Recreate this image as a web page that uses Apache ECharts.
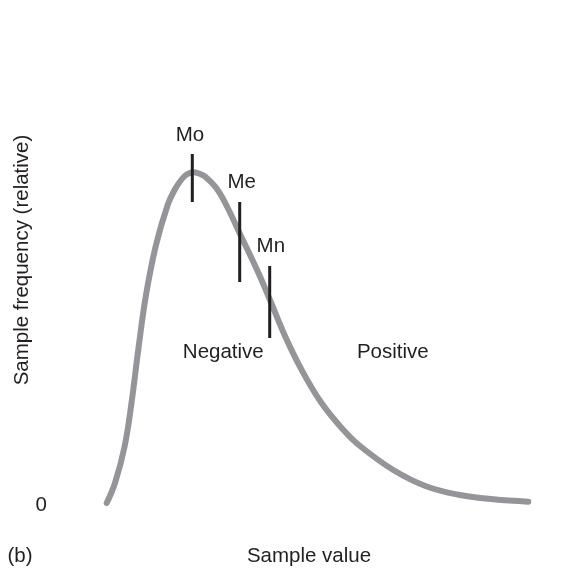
<!DOCTYPE html>
<html>
<head>
<meta charset="utf-8">
<script src="https://cdn.jsdelivr.net/npm/echarts@6/dist/echarts.min.js"></script>
<style>
html,body{margin:0;padding:0;background:#fff;}
#chart{width:563px;height:571px;}
</style>
</head>
<body>
<div id="chart"></div>
<script>
// Skewed frequency distribution (sample value, relative frequency)
var sampleX = [4.67, 5.5, 6.45, 7.15, 7.85, 8.6, 9.6, 10.8, 11.5, 12.15, 12.7, 13.3,
               13.9, 14.5, 15.7, 16.8, 18.0, 19.8, 21.0, 22.5, 24.17, 26.17, 28.3, 30.0, 33.33, 36.67, 40.0, 43.33, 46.83];
var sampleY = [0.2, 2.2, 5.8, 10.2, 15.7, 21.0, 26.0, 30.1, 31.57, 32.55, 33.07, 33.28,
               33.15, 32.84, 31.6, 29.65, 27.1, 23.3, 20.5, 16.9, 13.5, 10.17, 7.55, 5.9, 3.5, 1.85, 1.0, 0.57, 0.33];
// Mode / median / mean markers: [x, yLow, yHigh]
var markerNames = ['Mo', 'Me', 'Mn'];
var markerX = [13.23, 17.97, 20.97];
var markerLow = [30.3, 22.3, 16.7];
var markerHigh = [35.1, 30.3, 23.9];
// Text annotations
var annoText = ['Mo', 'Me', 'Mn', 'Negative', 'Positive'];
var annoX = [13.0, 18.17, 21.08, 16.33, 33.28];
var annoY = [37.0, 32.25, 25.9, 15.25, 15.25];
var yTicks = [0];

var FONT = 'Liberation Sans, Arial, Helvetica, sans-serif';
var TXT = '#231f20';

var curve = sampleX.map(function (x, i) { return [x, sampleY[i]]; });

var series = [{
  type: 'line',
  data: curve,
  smooth: 0.4,
  symbol: 'none',
  lineStyle: { color: '#939598', width: 6, cap: 'round', join: 'round' },
  z: 2
}];
markerX.forEach(function (x, i) {
  series.push({
    type: 'line',
    name: markerNames[i],
    data: [[x, markerLow[i]], [x, markerHigh[i]]],
    symbol: 'none',
    lineStyle: { color: TXT, width: 3 },
    z: 3
  });
});
series.push({
  type: 'scatter',
  symbolSize: 0,
  itemStyle: { opacity: 1 },
  data: annoX.map(function (x, i) { return { value: [x, annoY[i]], name: annoText[i] }; }),
  label: {
    show: true,
    position: 'inside',
    opacity: 1,
    formatter: function (p) { return p.name; },
    color: TXT,
    fontFamily: FONT,
    fontSize: 20.5
  },
  z: 4
});

var chart = echarts.init(document.getElementById('chart'), null, { renderer: 'canvas' });
chart.setOption({
  animation: false,
  backgroundColor: '#fff',
  grid: { left: 60, right: 23, top: 25, bottom: 66 },
  xAxis: {
    type: 'value', min: 0, max: 48,
    axisLine: { show: false }, axisTick: { show: false },
    axisLabel: { show: false }, splitLine: { show: false }
  },
  yAxis: {
    type: 'value', min: 0, max: 48, interval: 48,
    axisLine: { show: false }, axisTick: { show: false }, splitLine: { show: false },
    axisLabel: {
      margin: 13,
      color: TXT, fontFamily: FONT, fontSize: 20.5,
      formatter: function (v) { return yTicks.indexOf(v) >= 0 ? String(v) : ''; }
    }
  },
  graphic: [
    { type: 'text', x: 309, y: 556, style: { text: 'Sample value', fill: TXT, font: '20.5px ' + FONT, textAlign: 'center', textVerticalAlign: 'middle' } },
    { type: 'text', x: 20, y: 556, style: { text: '(b)', fill: TXT, font: '20.5px ' + FONT, textAlign: 'center', textVerticalAlign: 'middle' } },
    { type: 'text', x: 22, y: 260, rotation: Math.PI / 2, style: { text: 'Sample frequency (relative)', fill: TXT, font: '20.5px ' + FONT, textAlign: 'center', textVerticalAlign: 'middle' } }
  ],
  series: series
});
</script>
</body>
</html>
